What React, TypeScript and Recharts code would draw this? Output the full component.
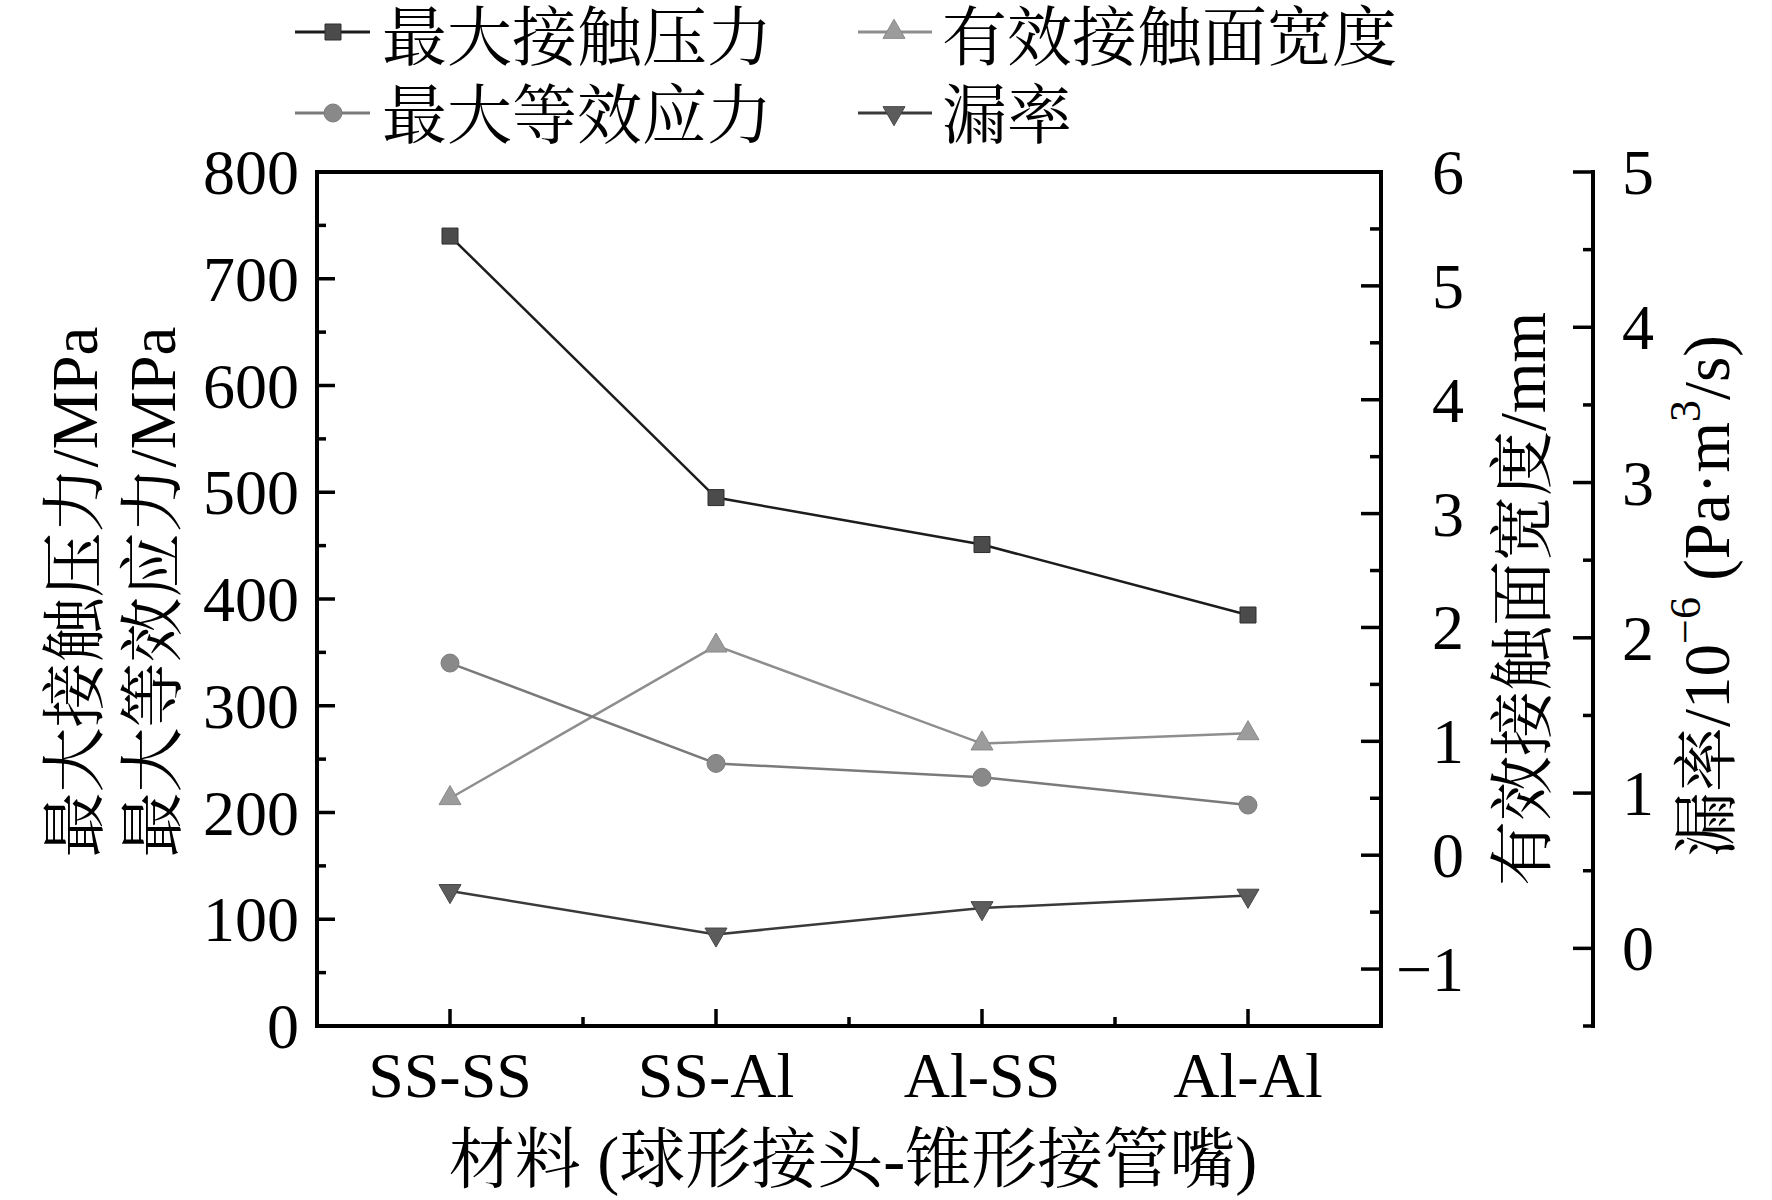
import React from 'react';
import { LineChart, Line, XAxis, YAxis, Legend, ReferenceLine, Symbols } from 'recharts';

// ---------- data ----------
const categories = ['SS-SS', 'SS-Al', 'Al-SS', 'Al-Al'];
const maxContactPressure = [740, 495, 451, 385]; // MPa, left axis
const maxEquivalentStress = [340, 246, 233, 207]; // MPa, left axis
const effectiveContactWidth = [0.5, 1.84, 0.98, 1.07]; // mm, right axis
const leakRate = [0.37, 0.09, 0.26, 0.34]; // 1e-6 Pa·m3/s, far right axis

const seriesNames = ['最大接触压力', '有效接触面宽度', '最大等效应力', '漏率'];

const xTicks = [0, 0.5, 1, 1.5, 2, 2.5, 3];
const leftTicks = [0, 50, 100, 150, 200, 250, 300, 350, 400, 450, 500, 550, 600, 650, 700, 750, 800];
const widthTicks = [-1.5, -1, -0.5, 0, 0.5, 1, 1.5, 2, 2.5, 3, 3.5, 4, 4.5, 5, 5.5, 6];
const leakTicks = [-0.5, 0, 0.5, 1, 1.5, 2, 2.5, 3, 3.5, 4, 4.5, 5];

const data = categories.map((name, i) => ({
  idx: i,
  name,
  pressure: maxContactPressure[i],
  stress: maxEquivalentStress[i],
  width: effectiveContactWidth[i],
  leak: leakRate[i],
}));

// ---------- styles ----------
const FONT = "'Liberation Serif', 'Times New Roman', 'Noto Serif CJK SC', 'Noto Sans CJK SC', serif";
const TICK_FS = 64;
const TITLE_FS = 65;
const AXIS_W = 4;
const TICK_W = 3.5;

const styles = {
  pressure: { line: '#1c1c1c', fill: '#4b4b4b', stroke: '#2e2e2e', shape: 'square' },
  width: { line: '#8e8e8e', fill: '#9c9c9c', stroke: '#8a8a8a', shape: 'triangle' },
  stress: { line: '#7a7a7a', fill: '#898989', stroke: '#7c7c7c', shape: 'circle' },
  leak: { line: '#3a3a3a', fill: '#5c5c5c', stroke: '#474747', shape: 'down' },
};
const legendKeys = ['pressure', 'width', 'stress', 'leak'];

function Marker({ cx, cy, shape, fill, stroke }) {
  if (cx == null || cy == null) return null;
  if (shape === 'square') {
    return <Symbols cx={cx} cy={cy} type="square" size={256} fill={fill} stroke={stroke} strokeWidth={1} />;
  }
  if (shape === 'circle') {
    return <Symbols cx={cx} cy={cy} type="circle" size={254} fill={fill} stroke={stroke} strokeWidth={1} />;
  }
  if (shape === 'triangle') {
    return <Symbols cx={cx} cy={cy} type="triangle" size={210} fill={fill} stroke={stroke} strokeWidth={1} />;
  }
  return (
    <g transform={`rotate(180 ${cx} ${cy})`}>
      <Symbols cx={cx} cy={cy} type="triangle" size={210} fill={fill} stroke={stroke} strokeWidth={1} />
    </g>
  );
}

const fmt = (v) => (v < 0 ? '\u2212' + Math.abs(v) : String(v));

// ---------- ticks ----------
function LeftTick(props) {
  const { x, y, payload } = props;
  const v = payload.value;
  const major = v % 100 === 0;
  return (
    <g>
      <line x1={x} x2={x + (major ? 18 : 9)} y1={y} y2={y} stroke="#000" strokeWidth={TICK_W} />
      {major && (
        <text x={x - 18} y={y + 22} textAnchor="end" fontFamily={FONT} fontSize={TICK_FS} fill="#000">
          {fmt(v)}
        </text>
      )}
    </g>
  );
}

function WidthTick(props) {
  const { x, y, payload } = props;
  const v = payload.value;
  const major = Number.isInteger(v);
  return (
    <g>
      <line x1={x} x2={x - (major ? 20 : 11)} y1={y} y2={y} stroke="#000" strokeWidth={TICK_W} />
      {major && (
        <text x={x + 83} y={y + 22} textAnchor="end" fontFamily={FONT} fontSize={TICK_FS} fill="#000">
          {fmt(v)}
        </text>
      )}
    </g>
  );
}

function LeakTick(props) {
  const { x, y, payload } = props;
  const v = payload.value;
  const major = Number.isInteger(v);
  return (
    <g>
      <line x1={x} x2={x - (major ? 20 : 10)} y1={y} y2={y} stroke="#000" strokeWidth={TICK_W} />
      {major && (
        <text x={x + 29} y={y + 22} textAnchor="start" fontFamily={FONT} fontSize={TICK_FS} fill="#000">
          {fmt(v)}
        </text>
      )}
    </g>
  );
}

function XTick(props) {
  const { x, y, payload } = props;
  const v = payload.value;
  const major = Number.isInteger(v);
  return (
    <g>
      <line x1={x} x2={x} y1={y} y2={y - (major ? 17 : 9)} stroke="#000" strokeWidth={TICK_W} />
      {major && (
        <text x={x} y={y + 71} textAnchor="middle" fontFamily={FONT} fontSize={TICK_FS} fill="#000">
          {categories[v]}
        </text>
      )}
    </g>
  );
}

// ---------- axis titles ----------
function LeftTitle({ viewBox }) {
  const vb = viewBox || { x: 0, y: 172, width: 317, height: 854 };
  const cy = vb.y + vb.height / 2 - 7;
  const lines = [
    { x: vb.x + 75, t: '最大接触压力/MPa' },
    { x: vb.x + 153, t: '最大等效应力/MPa' },
  ];
  return (
    <g>
      {lines.map((l, i) => (
        <text
          key={i}
          x={l.x}
          y={cy}
          transform={`rotate(-90 ${l.x} ${cy})`}
          textAnchor="middle"
          dominantBaseline="central"
          fontFamily={FONT}
          fontSize={TITLE_FS}
          fill="#000"
        >
          {l.t}
        </text>
      ))}
    </g>
  );
}

function WidthTitle({ viewBox }) {
  const vb = viewBox || { x: 1381, y: 172, width: 212, height: 854 };
  const cx = vb.x + 142;
  const cy = vb.y + vb.height / 2;
  return (
    <text
      x={cx}
      y={cy}
      transform={`rotate(-90 ${cx} ${cy})`}
      textAnchor="middle"
      dominantBaseline="central"
      fontFamily={FONT}
      fontSize={TITLE_FS}
      fill="#000"
    >
      有效接触面宽度/mm
    </text>
  );
}

function LeakTitle({ viewBox }) {
  const vb = viewBox || { x: 1593, y: 172, width: 179, height: 854 };
  const cx = vb.x + 114;
  const cy = vb.y + vb.height / 2 - 3;
  return (
    <text
      x={cx}
      y={cy}
      transform={`rotate(-90 ${cx} ${cy})`}
      textAnchor="middle"
      dominantBaseline="central"
      fontFamily={FONT}
      fontSize={TITLE_FS}
      fill="#000"
    >
      <tspan>漏率/10</tspan>
      <tspan dy={-22} fontSize={44}>{'\u2212'}6</tspan>
      <tspan dy={22}> (Pa·m</tspan>
      <tspan dy={-22} fontSize={44}>3</tspan>
      <tspan dy={22}>/s)</tspan>
    </text>
  );
}

function XTitle({ viewBox }) {
  const vb = viewBox || { x: 317, y: 1026, width: 1064, height: 174 };
  const cx = vb.x + vb.width / 2 + 4;
  return (
    <text x={cx} y={vb.y + 156} textAnchor="middle" fontFamily={FONT} fontSize={66} fill="#000">
      材料 (球形接头-锥形接管嘴)
    </text>
  );
}

// ---------- legend ----------
function LegendContent() {
  const cols = [
    { lineX1: 295, lineX2: 370, markX: 333, textX: 382 },
    { lineX1: 858, lineX2: 932, markX: 894, textX: 942 },
  ];
  const rows = [{ lineY: 32, textY: 60 }, { lineY: 113, textY: 138 }];
  return (
    <svg width={1772} height={170} style={{ display: 'block' }}>
      {legendKeys.map((k, i) => {
        const c = cols[i % 2];
        const r = rows[Math.floor(i / 2)];
        const s = styles[k];
        return (
          <g key={k}>
            <line x1={c.lineX1} x2={c.lineX2} y1={r.lineY} y2={r.lineY} stroke={s.line} strokeWidth={3} />
            <Marker cx={c.markX} cy={r.lineY} shape={s.shape} fill={s.fill} stroke={s.stroke} />
            <text x={c.textX} y={r.textY} fontFamily={FONT} fontSize={65} fill="#000">
              {seriesNames[i]}
            </text>
          </g>
        );
      })}
    </svg>
  );
}

const makeDot = (key) => (p) => {
  const s = styles[key];
  return <Marker key={`${key}-${p.index}`} cx={p.cx} cy={p.cy} shape={s.shape} fill={s.fill} stroke={s.stroke} />;
};

export default function App() {
  return (
    <div style={{ position: 'absolute', left: 0, top: 0, width: 1772, height: 1200, background: '#fff' }}>
      <LineChart
        width={1772}
        height={1200}
        data={data}
        margin={{ top: 172, right: 0, bottom: 0, left: 0 }}
      >
        <XAxis
          xAxisId="x"
          type="number"
          dataKey="idx"
          domain={[-0.5, 3.5]}
          ticks={xTicks}
          interval={0}
          height={174}
          tickSize={0}
          tickMargin={0}
          tickLine={false}
          tick={(p) => <XTick {...p} />}
          axisLine={{ stroke: '#000', strokeWidth: AXIS_W, strokeLinecap: 'square' }}
          label={<XTitle />}
          allowDataOverflow
        />
        <YAxis
          yAxisId="left"
          orientation="left"
          width={317}
          domain={[0, 800]}
          ticks={leftTicks}
          interval={0}
          tickSize={0}
          tickMargin={0}
          tickLine={false}
          tick={(p) => <LeftTick {...p} />}
          axisLine={{ stroke: '#000', strokeWidth: AXIS_W, strokeLinecap: 'square' }}
          label={<LeftTitle />}
          allowDataOverflow
        />
        <YAxis
          yAxisId="r1"
          orientation="right"
          width={212}
          domain={[-1.5, 6]}
          ticks={widthTicks}
          interval={0}
          tickSize={0}
          tickMargin={0}
          tickLine={false}
          tick={(p) => <WidthTick {...p} />}
          axisLine={{ stroke: '#000', strokeWidth: AXIS_W, strokeLinecap: 'square' }}
          label={<WidthTitle />}
          allowDataOverflow
        />
        <YAxis
          yAxisId="r2"
          orientation="right"
          width={179}
          domain={[-0.5, 5]}
          ticks={leakTicks}
          interval={0}
          tickSize={0}
          tickMargin={0}
          tickLine={false}
          tick={(p) => <LeakTick {...p} />}
          axisLine={{ stroke: '#000', strokeWidth: AXIS_W, strokeLinecap: 'square' }}
          label={<LeakTitle />}
          allowDataOverflow
        />
        <ReferenceLine xAxisId="x" yAxisId="left" y={800} stroke="#000" strokeWidth={AXIS_W} strokeLinecap="square" />
        <Legend
          layout="vertical"
          align="center"
          verticalAlign="middle"
          wrapperStyle={{ position: 'absolute', top: 0, left: 0, width: 1772, height: 170 }}
          content={() => <LegendContent />}
        />
        <Line
          xAxisId="x"
          yAxisId="left"
          dataKey="pressure"
          name={seriesNames[0]}
          type="linear"
          stroke={styles.pressure.line}
          strokeWidth={2.5}
          dot={makeDot('pressure')}
          activeDot={false}
          isAnimationActive={false}
        />
        <Line
          xAxisId="x"
          yAxisId="r1"
          dataKey="width"
          name={seriesNames[1]}
          type="linear"
          stroke={styles.width.line}
          strokeWidth={2.5}
          dot={makeDot('width')}
          activeDot={false}
          isAnimationActive={false}
        />
        <Line
          xAxisId="x"
          yAxisId="left"
          dataKey="stress"
          name={seriesNames[2]}
          type="linear"
          stroke={styles.stress.line}
          strokeWidth={2.5}
          dot={makeDot('stress')}
          activeDot={false}
          isAnimationActive={false}
        />
        <Line
          xAxisId="x"
          yAxisId="r2"
          dataKey="leak"
          name={seriesNames[3]}
          type="linear"
          stroke={styles.leak.line}
          strokeWidth={2.5}
          dot={makeDot('leak')}
          activeDot={false}
          isAnimationActive={false}
        />
      </LineChart>
    </div>
  );
}
